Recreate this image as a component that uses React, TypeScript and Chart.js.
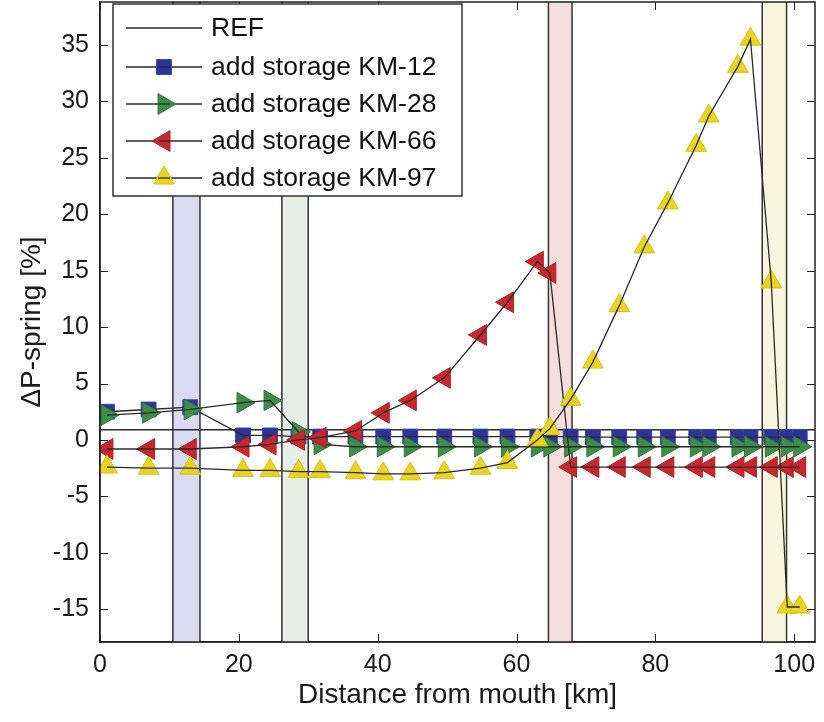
import React, { useEffect, useRef } from 'react';
import { Chart, registerables } from 'chart.js';

Chart.register(...registerables);

// ---------- data ----------
const stationsKm = [1, 7, 13, 20.6, 24.5, 28.6, 31.7, 36.8, 40.8, 44.7, 49.6, 54.8, 58.7, 63, 64.8, 67.8, 71, 74.8, 78.4, 81.8, 85.9, 87.7, 91.9, 93.7, 96.7, 99, 100.8];
const km12Values = [2.5, 2.7, 2.9, 0.4, 0.4, 0.3, 0.3, 0.3, 0.3, 0.3, 0.3, 0.3, 0.3, 0.3, 0.3, 0.3, 0.25, 0.25, 0.25, 0.25, 0.25, 0.25, 0.25, 0.25, 0.25, 0.25, 0.25];
const km28Values = [2.2, 2.4, 2.7, 3.3, 3.5, 0.7, -0.4, -0.6, -0.6, -0.6, -0.6, -0.6, -0.6, -0.6, -0.6, -0.6, -0.6, -0.6, -0.6, -0.6, -0.6, -0.6, -0.6, -0.6, -0.6, -0.6, -0.6];
const km66Values = [-0.8, -0.8, -0.8, -0.6, -0.4, 0.0, 0.2, 0.8, 2.4, 3.5, 5.5, 9.3, 12.2, 15.8, 14.8, -2.4, -2.4, -2.4, -2.4, -2.4, -2.4, -2.4, -2.4, -2.4, -2.4, -2.4, -2.4];
const km97Values = [-2.4, -2.5, -2.5, -2.7, -2.7, -2.8, -2.8, -2.9, -3.0, -3.0, -2.9, -2.5, -2.0, 0.0, 1.0, 3.6, 6.9, 11.9, 17.1, 21.0, 26.1, 28.7, 33.1, 35.5, 14.0, -14.8, -14.8];
const refKm = [0, 103];
const refValues = [0.9, 0.9];

const xTickValues = [0, 20, 40, 60, 80, 100];
const yTickValues = [-15, -10, -5, 0, 5, 10, 15, 20, 25, 30, 35];

const bandStartKm = [10.5, 26.2, 64.6, 95.4];
const bandEndKm = [14.4, 30.0, 68.0, 98.9];
const bandColors = ['#dadaf3', '#e6efe6', '#f4dede', '#f8f6df'];

const refLabel = 'REF';
const seriesLabels = ['add storage KM-12', 'add storage KM-28', 'add storage KM-66', 'add storage KM-97'];
const seriesValues = [km12Values, km28Values, km66Values, km97Values];
const seriesColors = ['#2c3498', '#3e8d49', '#c8272b', '#ead420'];
const seriesBorders = ['#3a44b0', '#2f7a3a', '#b21f23', '#d8c117'];
const seriesStyles = ['rect', 'triangle', 'triangle', 'triangle'];
const seriesRotations = [0, 90, -90, 0];
const seriesRadii = [10.5, 12, 12, 12];

const xTitle = 'Distance from mouth [km]';
const yTitle = 'ΔP-spring [%]';

const FONT = '"Liberation Sans", Arial, Helvetica, sans-serif';
const LINE_COLOR = '#2a2a2a';

const W = 824;
const H = 722;
// target plot-area edges (page px)
const AREA_TOP = 2;
const AREA_RIGHT = 815;

function drawMarker(ctx: CanvasRenderingContext2D, style: string, x: number, y: number, r: number, rotDeg: number) {
  ctx.beginPath();
  if (style === 'rect') {
    const s = Math.SQRT1_2 * r;
    ctx.rect(x - s, y - s, 2 * s, 2 * s);
  } else {
    let rad = (rotDeg * Math.PI) / 180;
    ctx.moveTo(x + Math.sin(rad) * r, y - Math.cos(rad) * r);
    rad += (2 * Math.PI) / 3;
    ctx.lineTo(x + Math.sin(rad) * r, y - Math.cos(rad) * r);
    rad += (2 * Math.PI) / 3;
    ctx.lineTo(x + Math.sin(rad) * r, y - Math.cos(rad) * r);
    ctx.closePath();
  }
  ctx.fill();
  ctx.stroke();
}

const bandsPlugin = {
  id: 'bands',
  beforeDatasetsDraw(chart: any) {
    const { ctx, chartArea, scales } = chart;
    const xs = scales.x;
    ctx.save();
    for (let i = 0; i < bandStartKm.length; i++) {
      const x0 = xs.getPixelForValue(bandStartKm[i]);
      const x1 = xs.getPixelForValue(bandEndKm[i]);
      ctx.fillStyle = bandColors[i];
      ctx.fillRect(x0, chartArea.top, x1 - x0, chartArea.bottom - chartArea.top);
      ctx.strokeStyle = '#333';
      ctx.lineWidth = 1.5;
      ctx.beginPath();
      ctx.moveTo(x0, chartArea.top);
      ctx.lineTo(x0, chartArea.bottom);
      ctx.moveTo(x1, chartArea.top);
      ctx.lineTo(x1, chartArea.bottom);
      ctx.stroke();
    }
    ctx.restore();
  },
};

const framePlugin = {
  id: 'frame',
  afterDatasetsDraw(chart: any) {
    const { ctx, chartArea, scales } = chart;
    const { left, right, top, bottom } = chartArea;
    const len = 8;
    ctx.save();
    ctx.strokeStyle = '#222';
    ctx.lineWidth = 1;
    ctx.beginPath();
    for (const v of xTickValues) {
      const x = Math.round(scales.x.getPixelForValue(v)) + 0.5;
      ctx.moveTo(x, bottom);
      ctx.lineTo(x, bottom - len);
      ctx.moveTo(x, top);
      ctx.lineTo(x, top + len);
    }
    for (const v of yTickValues) {
      const y = Math.round(scales.y.getPixelForValue(v)) + 0.5;
      ctx.moveTo(left, y);
      ctx.lineTo(left + len, y);
      ctx.moveTo(right, y);
      ctx.lineTo(right - len, y);
    }
    ctx.stroke();
    ctx.lineWidth = 1.5;
    ctx.strokeRect(left, top, right - left, bottom - top);
    ctx.restore();
  },
};

const legendPlugin = {
  id: 'customLegend',
  afterDraw(chart: any) {
    const { ctx, chartArea } = chart;
    const bx = chartArea.left + 13;
    const by = chartArea.top + 2;
    const bw = 349;
    const bh = 192;
    ctx.save();
    ctx.fillStyle = '#fff';
    ctx.fillRect(bx, by, bw, bh);
    ctx.strokeStyle = '#333';
    ctx.lineWidth = 1.5;
    ctx.strokeRect(bx, by, bw, bh);
    const rows = [refLabel, ...seriesLabels];
    const rowY = [24, 63, 100, 137, 174];
    const lx0 = bx + 13;
    const lx1 = bx + 89;
    const mx = (lx0 + lx1) / 2;
    ctx.font = `26.5px ${FONT}`;
    ctx.textBaseline = 'middle';
    ctx.textAlign = 'left';
    rows.forEach((label, i) => {
      const y = by + rowY[i];
      ctx.strokeStyle = LINE_COLOR;
      ctx.lineWidth = 1.3;
      ctx.beginPath();
      ctx.moveTo(lx0, y);
      ctx.lineTo(lx1, y);
      ctx.stroke();
      if (i > 0) {
        const k = i - 1;
        ctx.fillStyle = seriesColors[k];
        ctx.strokeStyle = seriesBorders[k];
        ctx.lineWidth = 1;
        drawMarker(ctx, seriesStyles[k], mx, y, seriesRadii[k], seriesRotations[k]);
        ctx.strokeStyle = LINE_COLOR;
        ctx.lineWidth = 1.3;
        ctx.beginPath();
        ctx.moveTo(mx - 6, y);
        ctx.lineTo(mx + 6, y);
        ctx.stroke();
      }
      ctx.fillStyle = '#111';
      ctx.fillText(label, bx + 98, y + 1);
    });
    ctx.restore();
  },
};

function buildConfig(): any {
  const datasets: any[] = [];
  const n = seriesValues.length;
  for (let k = n - 1; k >= 0; k--) {
    const pts = stationsKm.map((x, i) => ({ x, y: seriesValues[k][i] }));
    const baseOrder = (n - 1 - k) * 2;
    datasets.push({
      label: seriesLabels[k] + ' line',
      data: pts,
      showLine: true,
      borderColor: LINE_COLOR,
      borderWidth: 1.3,
      pointRadius: 0,
      pointHoverRadius: 0,
      fill: false,
      tension: 0,
      order: baseOrder,
    });
    datasets.push({
      label: seriesLabels[k],
      data: pts,
      showLine: false,
      pointStyle: seriesStyles[k],
      pointRotation: seriesRotations[k],
      pointRadius: seriesRadii[k],
      pointHoverRadius: seriesRadii[k],
      pointBackgroundColor: seriesColors[k],
      pointBorderColor: seriesBorders[k],
      pointBorderWidth: 1,
      order: baseOrder + 1,
    });
  }
  datasets.push({
    label: refLabel,
    data: refKm.map((x, i) => ({ x, y: refValues[i] })),
    showLine: true,
    borderColor: LINE_COLOR,
    borderWidth: 1.5,
    pointRadius: 0,
    fill: false,
    order: 100,
  });

  return {
    type: 'line',
    data: { datasets },
    options: {
      responsive: false,
      animation: false,
      devicePixelRatio: 1,
      layout: { padding: { left: 0, top: 0, right: 0, bottom: 0 } },
      plugins: { legend: { display: false }, tooltip: { enabled: false } },
      events: [],
      scales: {
        x: {
          type: 'linear',
          min: 0,
          max: 103,
          afterBuildTicks: (s: any) => {
            s.ticks = xTickValues.map((v) => ({ value: v }));
          },
          afterFit: (s: any) => {
            s.height = 80;
          },
          grid: { display: false, drawTicks: false },
          border: { display: true, color: '#222', width: 1.5 },
          ticks: { font: { family: FONT, size: 25 }, color: '#1a1a1a', padding: 8, maxRotation: 0 },
          title: {
            display: true,
            text: xTitle,
            font: { family: FONT, size: 28 },
            color: '#1a1a1a',
            padding: { top: 0, bottom: 10 },
          },
        },
        y: {
          type: 'linear',
          min: -17.9,
          max: 38.8,
          afterBuildTicks: (s: any) => {
            s.ticks = yTickValues.map((v) => ({ value: v }));
          },
          afterFit: (s: any) => {
            s.width = 100;
          },
          grid: { display: false, drawTicks: false },
          border: { display: true, color: '#222', width: 1.5 },
          ticks: { font: { family: FONT, size: 25 }, color: '#1a1a1a', padding: 11 },
          title: {
            display: true,
            text: yTitle,
            font: { family: FONT, size: 28 },
            color: '#1a1a1a',
            padding: { top: 15, bottom: 0 },
          },
        },
      },
    },
    plugins: [bandsPlugin, framePlugin, legendPlugin],
  };
}

export default function App() {
  const canvasRef = useRef<HTMLCanvasElement | null>(null);

  useEffect(() => {
    const canvas = canvasRef.current;
    if (!canvas) return;

    const setSize = (w: number, h: number, shiftY: number) => {
      canvas.width = w;
      canvas.height = h;
      canvas.style.width = w + 'px';
      canvas.style.height = h + 'px';
      canvas.style.marginTop = -shiftY + 'px';
    };

    setSize(W, H, 0);
    let chart = new Chart(canvas, buildConfig());
    const ca = chart.chartArea;
    const dTop = Math.round(ca.top - AREA_TOP);
    const dRight = Math.round(AREA_RIGHT - ca.right);
    if (dTop !== 0 || dRight !== 0) {
      chart.destroy();
      setSize(W + dRight, H + dTop, dTop);
      chart = new Chart(canvas, buildConfig());
    }

    return () => chart.destroy();
  }, []);

  return (
    <div style={{ position: 'fixed', left: 0, top: 0, width: W, height: H, overflow: 'hidden', background: '#fff' }}>
      <canvas ref={canvasRef} width={W} height={H} style={{ display: 'block', width: W, height: H }} />
    </div>
  );
}
